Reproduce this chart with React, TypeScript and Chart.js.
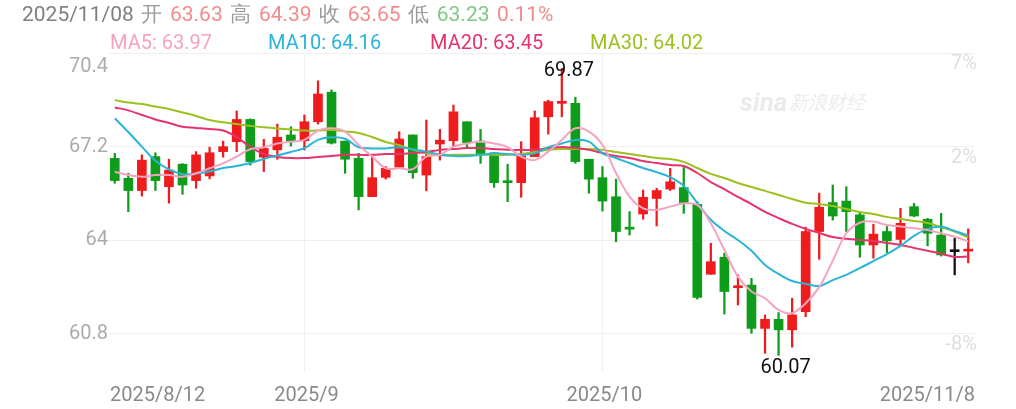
import React, { useEffect, useRef } from "react";
import { Chart, registerables } from "chart.js";

Chart.register(...registerables);

const dates: string[] = [
  "2025/8/12", "2025/8/13", "2025/8/14", "2025/8/15", "2025/8/18", "2025/8/19", "2025/8/20", "2025/8/21",
  "2025/8/22", "2025/8/25", "2025/8/26", "2025/8/27", "2025/8/28", "2025/8/29",
  "2025/9/1", "2025/9/2", "2025/9/3", "2025/9/4", "2025/9/5", "2025/9/8", "2025/9/9", "2025/9/10",
  "2025/9/11", "2025/9/12", "2025/9/15", "2025/9/16", "2025/9/17", "2025/9/18", "2025/9/19", "2025/9/22",
  "2025/9/23", "2025/9/24", "2025/9/25", "2025/9/26", "2025/9/29", "2025/9/30",
  "2025/10/1", "2025/10/2", "2025/10/3", "2025/10/6", "2025/10/7", "2025/10/8", "2025/10/9", "2025/10/10",
  "2025/10/13", "2025/10/14", "2025/10/15", "2025/10/16", "2025/10/17", "2025/10/20", "2025/10/21",
  "2025/10/22", "2025/10/23", "2025/10/24", "2025/10/27", "2025/10/28", "2025/10/29", "2025/10/30",
  "2025/10/31", "2025/11/3", "2025/11/4", "2025/11/5", "2025/11/6", "2025/11/8",
];

const opens: number[] = [
  66.80, 66.12, 65.70, 66.86, 65.83, 66.60, 66.04, 66.20, 67.03, 67.37, 68.13, 66.84, 67.09, 67.60,
  67.40, 68.05, 69.06, 67.39, 66.80, 65.49, 66.15, 66.50, 67.60, 66.23, 67.29, 67.40, 68.05, 67.39,
  66.99, 66.00, 65.97, 66.86, 68.22, 68.68, 68.68, 66.77,
  66.14, 65.49, 64.41, 64.90, 65.43, 65.75, 65.80, 65.23, 62.84, 63.42, 62.38, 62.47, 60.99, 61.30,
  60.94, 61.56, 64.30, 65.29, 65.34, 64.87, 63.84, 64.30, 64.03, 65.15, 64.72, 64.18, 63.61, 63.63,
];
const highs: number[] = [
  66.97, 66.29, 66.92, 66.99, 66.77, 66.62, 67.03, 67.18, 67.39, 68.42, 68.15, 67.45, 67.97, 67.88,
  68.28, 69.45, 69.14, 67.39, 66.97, 66.92, 66.52, 67.71, 67.60, 68.11, 67.79, 68.62, 68.05, 67.79,
  66.99, 66.60, 67.37, 68.42, 68.79, 69.87, 68.89, 66.77,
  66.52, 66.09, 64.98, 65.72, 65.78, 66.46, 66.49, 65.32, 63.90, 63.56, 62.82, 62.70, 61.45, 61.53,
  62.02, 64.45, 65.61, 65.89, 65.83, 64.94, 64.55, 64.47, 65.09, 65.26, 64.75, 64.92, 64.07, 64.39,
];
const lows: number[] = [
  65.95, 64.98, 65.51, 65.70, 65.27, 65.57, 65.78, 66.10, 66.84, 67.03, 66.57, 66.35, 66.77, 67.22,
  67.09, 67.97, 67.29, 66.29, 65.04, 65.49, 66.09, 66.50, 66.12, 65.69, 66.74, 67.20, 67.14, 66.63,
  65.81, 65.32, 65.47, 66.86, 67.63, 68.22, 66.63, 65.61,
  65.00, 63.95, 64.18, 64.72, 64.49, 65.70, 64.92, 61.99, 62.84, 61.48, 61.79, 60.82, 60.14, 60.07,
  60.35, 61.39, 63.35, 64.69, 64.30, 63.42, 63.39, 63.58, 63.84, 64.81, 63.81, 63.46, 62.82, 63.23,
];
const closes: number[] = [
  66.04, 65.70, 66.74, 66.04, 66.40, 65.89, 66.92, 66.99, 67.20, 68.13, 66.69, 67.14, 67.52, 67.39,
  68.05, 69.00, 67.32, 66.77, 65.49, 66.14, 66.46, 67.46, 66.31, 66.86, 67.42, 68.39, 67.34, 66.95,
  65.97, 65.97, 66.89, 68.19, 68.74, 68.72, 66.69, 66.09,
  65.34, 64.30, 64.38, 65.47, 65.70, 66.00, 65.29, 62.05, 63.27, 62.25, 62.44, 60.99, 61.30, 60.94,
  61.45, 64.30, 65.13, 64.83, 64.98, 63.84, 64.21, 63.98, 64.58, 64.83, 64.24, 63.50, 63.61, 63.65,
];

const ma5: number[] = [
  66.34, 66.23, 66.17, 66.23, 66.23, 66.17, 66.29, 66.46, 66.63, 66.86, 67.11, 67.18, 67.31, 67.37,
  67.43, 67.75, 67.83, 67.71, 67.26, 66.86, 66.46, 66.46, 66.43, 66.86, 66.92, 67.20, 67.31, 67.37,
  67.31, 67.18, 66.86, 66.74, 67.03, 67.43, 67.83, 67.71,
  67.26, 66.30, 65.49, 65.09, 65.04, 65.15, 65.26, 65.21, 64.58, 63.67, 62.76, 62.25, 62.02, 61.62,
  61.51, 61.85, 62.40, 63.30, 64.24, 64.60, 64.64, 64.52, 64.47, 64.41, 64.35, 64.24, 64.12, 63.97,
];
const ma10: number[] = [
  68.17, 67.70, 67.20, 66.72, 66.42, 66.26, 66.28, 66.35, 66.47, 66.54, 66.64, 66.78, 66.90, 67.02,
  67.15, 67.43, 67.52, 67.47, 67.18, 67.14, 67.14, 67.18, 67.11, 67.03, 66.92, 66.88, 66.88, 66.92,
  66.97, 66.95, 66.92, 66.97, 67.18, 67.31, 67.43, 67.37,
  66.97, 66.81, 66.64, 66.47, 66.33, 66.16, 65.86, 65.28, 64.70, 64.32, 64.01, 63.64, 63.16, 62.85,
  62.61, 62.51, 62.44, 62.64, 62.82, 63.05, 63.29, 63.53, 63.81, 64.15, 64.39, 64.46, 64.32, 64.16,
];
const ma20: number[] = [
  68.54, 68.44, 68.28, 68.13, 68.01, 67.88, 67.84, 67.80, 67.75, 67.53, 67.19, 66.95, 66.85, 66.81,
  66.81, 66.85, 66.88, 66.92, 66.92, 66.92, 66.95, 66.95, 66.98, 67.02, 67.09, 67.12, 67.15, 67.15,
  67.12, 67.09, 67.09, 67.09, 67.15, 67.19, 67.15, 67.09,
  66.98, 66.88, 66.81, 66.71, 66.64, 66.57, 66.54, 66.30, 65.99, 65.75, 65.48, 65.24, 64.97, 64.76,
  64.56, 64.39, 64.25, 64.11, 64.05, 64.01, 63.98, 63.91, 63.84, 63.74, 63.64, 63.54, 63.43, 63.45,
];
const ma30: number[] = [
  68.79, 68.71, 68.66, 68.57, 68.49, 68.37, 68.25, 68.11, 68.03, 67.97, 67.91, 67.86, 67.82, 67.79,
  67.75, 67.75, 67.77, 67.72, 67.67, 67.53, 67.36, 67.25, 67.10, 66.97, 66.92, 66.92, 66.92, 66.92,
  66.92, 66.92, 66.95, 67.02, 67.09, 67.12, 67.12, 67.12,
  67.09, 67.02, 66.95, 66.88, 66.81, 66.78, 66.68, 66.47, 66.27, 66.13, 65.96, 65.82, 65.69, 65.55,
  65.41, 65.28, 65.24, 65.17, 65.07, 64.97, 64.90, 64.80, 64.73, 64.66, 64.59, 64.45, 64.30, 64.10,
];

const yTicks: number[] = [70.4, 67.2, 64, 60.8];
const yTickLabels: string[] = ["70.4", "67.2", "64", "60.8"];
const pctTickLabels: string[] = ["7%", "2%", "", "-8%"];
const xLabelIdx: number[] = [0, 14, 36, 63];
const xLabels: string[] = ["2025/8/12", "2025/9", "2025/10", "2025/11/8"];
const xGridIdx: number[] = [14, 36];
const maxIdx = 33;
const maxLabel = "69.87";
const minIdx = 49;
const minLabel = "60.07";

const headerParts: { t: string; c: string }[] = [
  { t: "2025/11/08", c: "#808080" },
  { t: "开", c: "#9a9a9a" },
  { t: "63.63", c: "#f08c8c" },
  { t: "高", c: "#9a9a9a" },
  { t: "64.39", c: "#f08c8c" },
  { t: "收", c: "#9a9a9a" },
  { t: "63.65", c: "#f08c8c" },
  { t: "低", c: "#9a9a9a" },
  { t: "63.23", c: "#82c882" },
  { t: "0.11%", c: "#f08c8c" },
];
const maLegend: { t: string; c: string; x: number }[] = [
  { t: "MA5: 63.97", c: "#f5a3bf", x: 110 },
  { t: "MA10: 64.16", c: "#2ab4d6", x: 268 },
  { t: "MA20: 63.45", c: "#e6336b", x: 430 },
  { t: "MA30: 64.02", c: "#9cc11f", x: 590 },
];

const RED = "#ee1c1c";
const GREEN = "#0e9c1a";
const FONT = "Roboto, 'Liberation Sans', sans-serif";

function candleColor(i: number): string {
  if (closes[i] > opens[i]) return RED;
  if (closes[i] < opens[i]) return GREEN;
  return "#111111";
}

const textPlugin = {
  id: "chartTexts",
  beforeDatasetsDraw(chart: any) {
    const ctx = chart.ctx;
    ctx.save();
    ctx.fillStyle = "#ebebeb";
    ctx.textBaseline = "middle";
    ctx.textAlign = "left";
    ctx.font = `italic bold 26px ${FONT}`;
    ctx.fillText("sina", 740, 104);
    ctx.font = `italic 19px ${FONT}`;
    ctx.fillText("新浪财经", 789, 104);
    ctx.restore();
  },
  afterDraw(chart: any) {
    const ctx = chart.ctx;
    const ys = chart.scales.y;
    const xs = chart.scales.x;
    const area = chart.chartArea;
    ctx.save();
    ctx.font = `20px ${FONT}`;
    ctx.textBaseline = "middle";
    // left price labels
    ctx.fillStyle = "#ababab";
    ctx.textAlign = "right";
    yTicks.forEach((v, i) => {
      const py = ys.getPixelForValue(v) + (i === 0 ? 14 : 0);
      ctx.fillText(yTickLabels[i], area.left, py);
    });
    // right percentage labels
    ctx.fillStyle = "#dedede";
    yTicks.forEach((v, i) => {
      if (!pctTickLabels[i]) return;
      const py = ys.getPixelForValue(v) + 11;
      ctx.fillText(pctTickLabels[i], area.right + 2, py);
    });
    // x labels
    ctx.fillStyle = "#8a8a8a";
    xLabelIdx.forEach((idx, i) => {
      const px = xs.getPixelForValue(idx);
      if (i === 0) {
        ctx.textAlign = "left";
        ctx.fillText(xLabels[i], area.left + 2, 396);
      } else if (i === xLabelIdx.length - 1) {
        ctx.textAlign = "right";
        ctx.fillText(xLabels[i], area.right, 396);
      } else {
        ctx.textAlign = "center";
        ctx.fillText(xLabels[i], px + 2, 396);
      }
    });
    // extreme labels
    ctx.fillStyle = "#111111";
    ctx.textAlign = "center";
    ctx.fillText(maxLabel, xs.getPixelForValue(maxIdx) + 7, ys.getPixelForValue(highs[maxIdx]) + 2);
    ctx.fillText(minLabel, xs.getPixelForValue(minIdx) + 7, ys.getPixelForValue(lows[minIdx]) + 13);
    ctx.restore();
  },
};

export default function App() {
  const canvasRef = useRef<HTMLCanvasElement | null>(null);

  useEffect(() => {
    if (!canvasRef.current) return;
    const colors = dates.map((_, i) => candleColor(i));
    const lineDs = (data: number[], color: string, order: number) => ({
      type: "line" as const,
      data,
      borderColor: color,
      backgroundColor: color,
      borderWidth: 2,
      pointRadius: 0,
      tension: 0.35,
      fill: false,
      order,
    });
    const chart = new Chart(canvasRef.current, {
      type: "bar",
      data: {
        labels: dates,
        datasets: [
          lineDs(ma5, "#f5a3bf", 0),
          lineDs(ma10, "#2ab4d6", 1),
          lineDs(ma20, "#e6336b", 2),
          lineDs(ma30, "#9cc11f", 3),
          {
            type: "bar",
            data: opens.map((o, i) => [o, closes[i]]),
            backgroundColor: colors,
            barThickness: 9,
            minBarLength: 2,
            grouped: false,
            borderWidth: 0,
            order: 5,
          } as any,
          {
            type: "bar",
            data: lows.map((l, i) => [l, highs[i]]),
            backgroundColor: colors,
            barThickness: 1.6,
            grouped: false,
            borderWidth: 0,
            order: 6,
          } as any,
        ],
      },
      plugins: [textPlugin],
      options: {
        responsive: false,
        devicePixelRatio: 1,
        animation: false,
        events: [],
        layout: { padding: { left: 108, right: 41, top: 53, bottom: 37 } },
        plugins: { legend: { display: false }, tooltip: { enabled: false } },
        scales: {
          x: {
            type: "category",
            offset: true,
            border: { display: false },
            ticks: { display: false, autoSkip: false },
            grid: {
              offset: false,
              drawTicks: false,
              color: (c: any) => (xGridIdx.includes(c.index) ? "#efefef" : "rgba(0,0,0,0)"),
              lineWidth: 1,
            },
            afterFit: (s: any) => {
              s.height = 0;
            },
          },
          y: {
            type: "linear",
            min: 59.5,
            max: 70.4,
            border: { display: false },
            ticks: { display: false },
            grid: { drawTicks: false, color: "#efefef", lineWidth: 1 },
            afterBuildTicks: (s: any) => {
              s.ticks = yTicks.map((v) => ({ value: v }));
            },
            afterFit: (s: any) => {
              s.width = 0;
            },
          },
        },
      } as any,
    });
    return () => chart.destroy();
  }, []);

  return (
    <div
      style={{
        position: "fixed",
        left: 0,
        top: 0,
        width: 1016,
        height: 409,
        background: "#ffffff",
        overflow: "hidden",
        fontFamily: FONT,
      }}
    >
      <canvas ref={canvasRef} width={1016} height={409} style={{ position: "absolute", left: 0, top: 0 }} />
      <div
        style={{
          position: "absolute",
          left: 22,
          top: 1,
          fontSize: 21,
          lineHeight: "26px",
          whiteSpace: "nowrap",
          display: "flex",
          gap: 7.6,
        }}
      >
        {headerParts.map((p, i) => (
          <span key={i} style={{ color: p.c }}>
            {p.t}
          </span>
        ))}
      </div>
      {maLegend.map((m, i) => (
        <div
          key={i}
          style={{
            position: "absolute",
            left: m.x,
            top: 29,
            fontSize: 20,
            lineHeight: "26px",
            color: m.c,
            whiteSpace: "nowrap",
          }}
        >
          {m.t}
        </div>
      ))}
    </div>
  );
}
